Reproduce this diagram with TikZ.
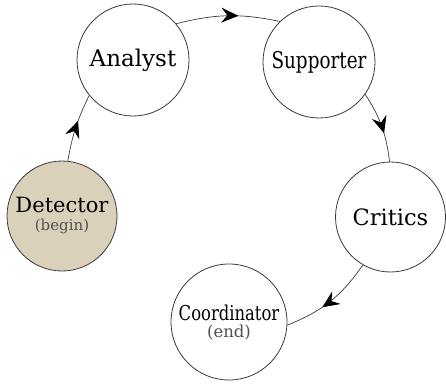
\documentclass[tikz,border=0pt]{standalone}
\usepackage{fontspec}
\usepackage{graphicx}
\setmainfont{DejaVu Serif}
\usetikzlibrary{arrows.meta,decorations.markings}
\definecolor{startfill}{HTML}{D9D1B9}
\definecolor{edgegray}{HTML}{3A3A3A}
\definecolor{subgray}{HTML}{505050}
\newcommand{\narrow}[1]{\scalebox{0.8}[1]{#1}}
\tikzset{
  role/.style={circle, draw=edgegray, line width=0.8pt, fill=white,
    minimum size=#1, inner sep=0pt, align=center},
  role/.default=112pt,
  flow/.style={draw=edgegray, line width=0.7pt,
    postaction={decorate, decoration={markings,
      mark=at position 0.6 with {\arrow[black]{Stealth[length=17pt,width=15pt,inset=6pt]}}}}},
}
\begin{document}
\begin{tikzpicture}[x=1pt,y=1pt]
  \useasboundingbox (0,0) rectangle (446,383);
  % the five roles of the cycle
  \node[role=110pt, fill=startfill, font=\fontsize{21}{18}\selectfont] (det) at (62,167)
    {Detector\\{\fontsize{15}{18}\selectfont\color{subgray}(begin)}};
  \node[role, font=\fontsize{23}{24}\selectfont] (ana) at (133,323) {Analyst};
  \node[role, font=\fontsize{23}{24}\selectfont] (sup) at (319,321) {\narrow{Supporter}};
  \node[role=110pt, font=\fontsize{22.5}{24}\selectfont] (cri) at (390.5,166) {Critics};
  \node[role=116pt, font=\fontsize{20.5}{17}\selectfont] (coo) at (229,61)
    {\narrow{Coordinator}\\{\fontsize{16.5}{17}\selectfont\color{subgray}(end)}};
  % transitions
  \path[flow] (det.84) to[bend left=8] (ana.219);
  \path[flow] (ana.40) to[bend left=13] (sup.134);
  \path[flow] (sup.325) to[bend left=13] (cri.91);
  \path[flow] (cri.240) to[bend left=17] (coo.357);
\end{tikzpicture}
\end{document}
